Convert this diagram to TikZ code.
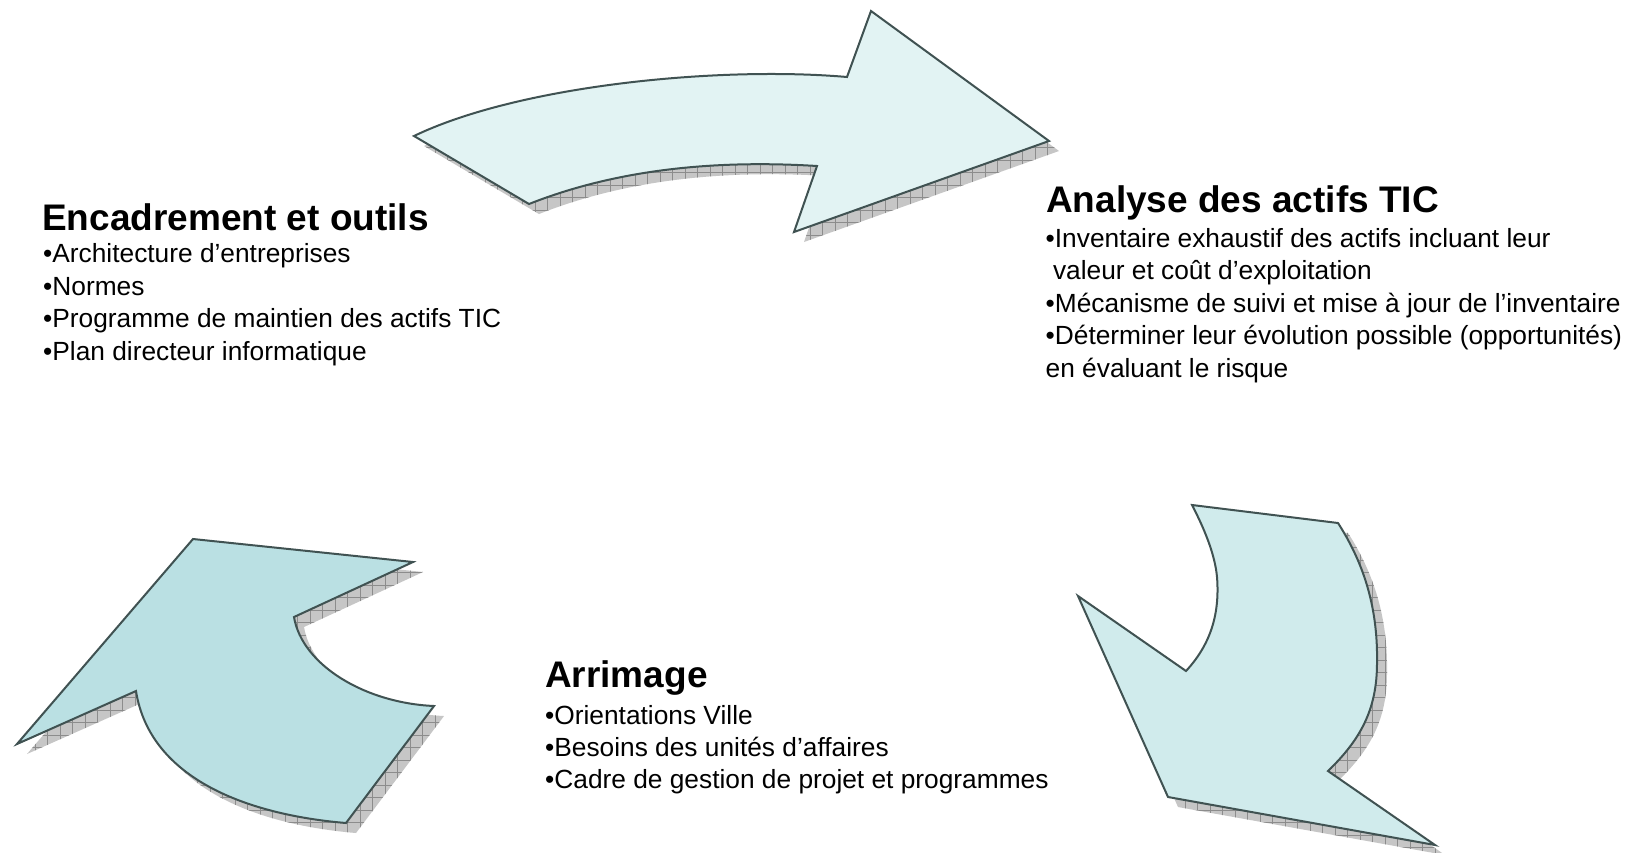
\documentclass[tikz,border=0pt]{standalone}
\usepackage{fontspec}
\setmainfont{Liberation Sans}
\definecolor{outline}{RGB}{64,82,82}
\definecolor{fillA}{RGB}{226,243,243}
\definecolor{fillB}{RGB}{208,235,236}
\definecolor{fillC}{RGB}{186,224,227}
\definecolor{shadowgray}{RGB}{198,198,198}
\definecolor{gridgray}{RGB}{140,140,140}
\newcommand{\pathTop}{(414,136) .. controls (520,85) and (720,66) .. (847,77) -- (871,11) -- (1049,141) -- (794,232) -- (817,166) .. controls (720,160) and (620,168) .. (529,204) -- cycle}
\newcommand{\pathRight}{(1192,505) -- (1338,523) .. controls (1365,565) and (1378,610) .. (1377,663) .. controls (1377,710) and (1360,740) .. (1328,771) -- (1435,845) -- (1168,797) -- (1078,596) -- (1186,671) .. controls (1210,645) and (1220,615) .. (1217,577) .. controls (1215,555) and (1205,530) .. (1192,505) -- cycle}
\newcommand{\pathLeft}{(17,744) -- (193,539) -- (413,562) -- (294,617) .. controls (302,665) and (365,703) .. (434,706) -- (346,823) .. controls (250,815) and (150,780) .. (136,691) -- cycle}
\newcommand{\shadowof}[1]{%
  \begin{scope}[shift={(10,10)}]
    \clip #1;
    \fill[shadowgray] (-20,-20) rectangle (1660,870);
    \draw[gridgray, line width=0.9pt, step=12.5pt] (-25,-25) grid (1660,870);
  \end{scope}}
\tikzset{
  arrowshape/.style={draw=outline, line width=2pt, line join=miter},
  titletext/.style={anchor=base west, inner sep=0pt, font=\fontsize{37}{44}\selectfont\bfseries},
  bodytext/.style={anchor=base west, inner sep=0pt, font=\fontsize{26.3}{32}\selectfont},
}
\begin{document}
\begin{tikzpicture}[x=1pt,y=-1pt]
\useasboundingbox (0,0) rectangle (1637,852);
\fill[white] (0,0) rectangle (1637,852);
% shadows
\shadowof{\pathTop}
\shadowof{\pathRight}
\shadowof{\pathLeft}
% arrows
\path[arrowshape, fill=fillA] \pathTop;
\path[arrowshape, fill=fillB] \pathRight;
\path[arrowshape, fill=fillC] \pathLeft;
% left block
\node[titletext] (enc) at (42,230.5) {Encadrement et outils};
\node[bodytext] (enc1) at (43,262.5) {•Architecture d’entreprises};
\node[bodytext] (enc2) at (43,295) {•Normes};
\node[bodytext] (enc3) at (43,327.5) {•Programme de maintien des actifs TIC};
\node[bodytext] (enc4) at (43,360) {•Plan directeur informatique};
% right block
\node[titletext] (ana) at (1046,212.3) {Analyse des actifs TIC};
\node[bodytext] (ana1) at (1045.5,247) {•Inventaire exhaustif des actifs incluant leur};
\node[bodytext] (ana2) at (1045.5,279.5) {\ valeur et coût d’exploitation};
\node[bodytext] (ana3) at (1045.5,312) {•Mécanisme de suivi et mise à jour de l’inventaire};
\node[bodytext] (ana4) at (1045.5,344.5) {•Déterminer leur évolution possible (opportunités)};
\node[bodytext] (ana5) at (1045.5,377) {en évaluant le risque};
% bottom block
\node[titletext] (arr) at (545,687) {Arrimage};
\node[bodytext] (arr1) at (545,724) {•Orientations Ville};
\node[bodytext] (arr2) at (545,756) {•Besoins des unités d’affaires};
\node[bodytext] (arr3) at (545,788) {•Cadre de gestion de projet et programmes};
\end{tikzpicture}
\end{document}
